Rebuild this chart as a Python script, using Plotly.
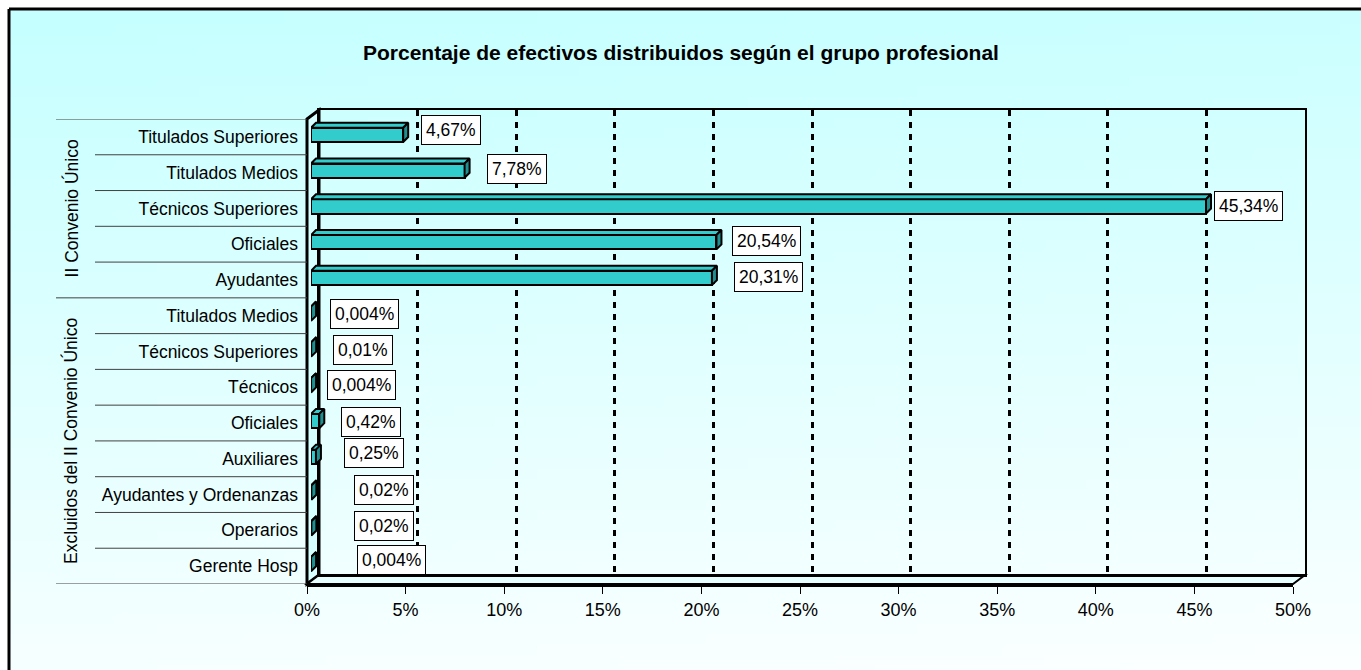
import base64
import struct
import zlib

import plotly.graph_objects as go

# data
groups = ['II Convenio Único', 'Excluidos del II Convenio Único']
group_sizes = [5, 8]
categories = ['Titulados Superiores', 'Titulados Medios', 'Técnicos Superiores', 'Oficiales', 'Ayudantes',
              'Titulados Medios', 'Técnicos Superiores', 'Técnicos', 'Oficiales', 'Auxiliares',
              'Ayudantes y Ordenanzas', 'Operarios', 'Gerente Hosp']
values = [4.67, 7.78, 45.34, 20.54, 20.31,
          0.004, 0.01, 0.004, 0.42, 0.25, 0.02, 0.02, 0.004]
value_labels = ['4,67%', '7,78%', '45,34%', '20,54%', '20,31%',
                '0,004%', '0,01%', '0,004%', '0,42%', '0,25%', '0,02%', '0,02%', '0,004%']
tick_vals = [0, 5, 10, 15, 20, 25, 30, 35, 40, 45, 50]
tick_text = ['0%', '5%', '10%', '15%', '20%', '25%', '30%', '35%', '40%', '45%', '50%']

W, H = 1361, 670
FONT = 'Liberation Sans, Arial, sans-serif'
rows = list(range(len(categories)))


def px(x):
    return x / W


def py(y):
    return 1 - y / H


def gradient_png(w, h):
    raw = b''
    for j in range(h):
        raw += b'\x00'
        for i in range(w):
            t = min(1.0, 0.9 * j / (h - 1) + 0.1 * i / (w - 1))
            r = int(198 + (252 - 198) * t)
            raw += bytes((r, 255, 255))

    def chunk(tag, data):
        c = struct.pack('>I', len(data)) + tag + data
        return c + struct.pack('>I', zlib.crc32(tag + data) & 0xffffffff)

    png = (b'\x89PNG\r\n\x1a\n'
           + chunk(b'IHDR', struct.pack('>IIBBBBB', w, h, 8, 2, 0, 0, 0))
           + chunk(b'IDAT', zlib.compress(raw))
           + chunk(b'IEND', b''))
    return 'data:image/png;base64,' + base64.b64encode(png).decode()


# 3d depth of the bars, in data units of the bar axes
x_unit = (1298 - 311) / 50.0
y_unit = (582 - 117) / len(categories)
dx = 5 / x_unit
dy = 5 / y_unit
half = 0.2

top_x, top_y, side_x, side_y = [], [], [], []
for v, r in zip(values, rows):
    top_x += [0, v, v + dx, dx, 0, None]
    top_y += [r - half, r - half, r - half - dy, r - half - dy, r - half, None]
    side_x += [v, v + dx, v + dx, v, v, None]
    side_y += [r - half, r - half - dy, r + half - dy, r + half, r - half, None]

fig = go.Figure()

# back wall subplot (grid only)
fig.add_trace(go.Scatter(x=[None], y=[None], xaxis='x', yaxis='y', showlegend=False, hoverinfo='skip'))

# bars
fig.add_trace(go.Bar(x=values, y=rows, orientation='h', width=2 * half, xaxis='x2', yaxis='y2',
                     marker=dict(color='#33CCCC', line=dict(color='black', width=2)),
                     showlegend=False, hoverinfo='skip'))
fig.add_trace(go.Scatter(x=top_x, y=top_y, xaxis='x2', yaxis='y2', mode='lines', fill='toself',
                         fillcolor='#33CCCC', line=dict(color='black', width=2),
                         showlegend=False, hoverinfo='skip'))
fig.add_trace(go.Scatter(x=side_x, y=side_y, xaxis='x2', yaxis='y2', mode='lines', fill='toself',
                         fillcolor='#208F8F', line=dict(color='black', width=2),
                         showlegend=False, hoverinfo='skip'))

# front axes (labels)
fig.add_trace(go.Scatter(x=values, y=rows, xaxis='x3', yaxis='y3', mode='markers',
                         marker=dict(opacity=0), showlegend=False, hoverinfo='skip'))

# data labels
label_dx = [18, 22, 8, 16, 22, 19, 22, 16, 22, 28, 43, 43, 46]
label_dy = [4.5, 2, 0, 1, 1, 0, 0, 0, -1, 4, 2.5, 2.5, 4.5]
annotations = []
for v, r, t, sx, sy in zip(values, rows, value_labels, label_dx, label_dy):
    annotations.append(dict(x=v, y=r, xref='x2', yref='y2', text=t, showarrow=False,
                            xanchor='left', yanchor='middle', xshift=sx, yshift=sy,
                            bgcolor='white', bordercolor='black', borderwidth=1, borderpad=4,
                            font=dict(family=FONT, size=17.5, color='black')))

# group labels
start = 0
for g, n in zip(groups, group_sizes):
    annotations.append(dict(x=px(71), y=start + (n - 1) / 2.0, xref='paper', yref='y3', text=g,
                            showarrow=False, textangle=-90, xanchor='center', yanchor='middle',
                            font=dict(family=FONT, size=17.5, color='black')))
    start += n

annotations.append(dict(x=px(681), y=py(52), xref='paper', yref='paper',
                        text='<b>Porcentaje de efectivos distribuidos según el grupo profesional</b>',
                        showarrow=False, xanchor='center', yanchor='middle',
                        font=dict(family=FONT, size=21, color='black')))

shapes = [
    # outer frame (only its left and top edges fall inside the window)
    dict(type='line', xref='paper', yref='paper', x0=px(9), y0=py(9), x1=1, y1=py(9),
         line=dict(color='black', width=3), layer='above'),
    dict(type='line', xref='paper', yref='paper', x0=px(9), y0=py(9), x1=px(9), y1=0,
         line=dict(color='black', width=3), layer='above'),
    # left wall
    dict(type='path', xref='paper', yref='paper', layer='below',
         path=f'M {px(307)},{py(119)} L {px(319)},{py(110)} L {px(319)},{py(575)} L {px(307)},{py(584)} Z',
         fillcolor='#D6FFFF', line=dict(color='black', width=3)),
    # floor
    dict(type='path', xref='paper', yref='paper', layer='below',
         path=f'M {px(307)},{py(584)} L {px(319)},{py(575)} L {px(1305)},{py(575)} L {px(1293)},{py(584)} Z',
         fillcolor='#E6FFFF', line=dict(color='black', width=2)),
]

# category separators
bounds = [0]
for n in group_sizes:
    bounds.append(bounds[-1] + n)
for i in range(len(categories) + 1):
    x0 = px(56) if i in bounds else px(95)
    shapes.append(dict(type='line', xref='paper', yref='y3', x0=x0, x1=px(307), y0=i - 0.5, y1=i - 0.5,
                       line=dict(color='#404040', width=1)))

fig.update_layout(
    width=W, height=H,
    margin=dict(l=0, r=0, t=0, b=0, autoexpand=False),
    paper_bgcolor='white',
    plot_bgcolor='rgba(0,0,0,0)',
    font=dict(family=FONT, size=18, color='black'),
    bargap=0,
    showlegend=False,
    hovermode=False,
    images=[dict(source=gradient_png(32, 64), xref='paper', yref='paper', x=px(9), y=py(9),
                 sizex=1 - px(9), sizey=py(9), sizing='stretch', xanchor='left', yanchor='top',
                 layer='below')],
    xaxis=dict(domain=[px(319), px(1305)], range=[0, 50], anchor='y', automargin=False,
               tickvals=tick_vals[1:-1], showticklabels=False, ticks='',
               showgrid=True, gridcolor='black', gridwidth=3, griddash='6px,6px',
               zeroline=False, showline=True, linecolor='black', linewidth=2, mirror=True),
    yaxis=dict(domain=[py(575), py(110)], range=[0, 1], anchor='x', automargin=False,
               showgrid=False, showticklabels=False, ticks='', zeroline=False,
               showline=True, linecolor='black', linewidth=2, mirror=True),
    xaxis2=dict(domain=[px(311), px(1298)], range=[0, 50], anchor='y2', visible=False, automargin=False),
    yaxis2=dict(domain=[py(582), py(117)], range=[len(categories) - 0.5, -0.5], anchor='x2',
                visible=False, automargin=False),
    xaxis3=dict(domain=[px(307), px(1293)], range=[0, 50], anchor='y3', automargin=False,
                tickvals=tick_vals, ticktext=tick_text, ticks='outside', ticklen=7,
                tickcolor='black', tickwidth=1, showgrid=False, zeroline=False,
                showline=True, linecolor='black', linewidth=3,
                tickfont=dict(family=FONT, size=18, color='black')),
    yaxis3=dict(domain=[py(584), py(119)], range=[len(categories) - 0.5, -0.5], anchor='x3',
                automargin=False, tickvals=rows, ticktext=categories, ticks='', showgrid=False,
                zeroline=False, showline=False, ticklabelstandoff=8,
                tickfont=dict(family=FONT, size=17.5, color='black')),
    annotations=annotations,
    shapes=shapes,
)

fig.write_html('out.html', config={'displayModeBar': False},
               post_script="document.body.style.margin='0';document.body.style.overflow='hidden';")
